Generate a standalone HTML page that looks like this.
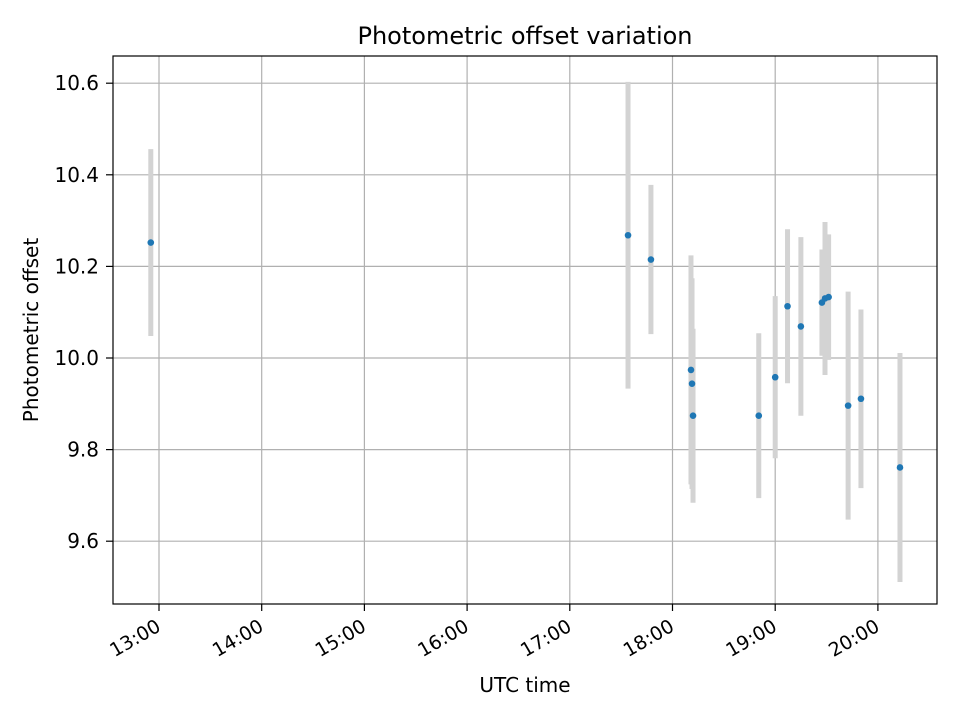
<!DOCTYPE html>
<html><head><meta charset="utf-8"><style>
body{margin:0;background:#fff}
text{font-family:"DejaVu Sans","Liberation Sans",sans-serif;fill:#000}
</style></head><body>
<svg width="960" height="720" viewBox="0 0 960 720">
<rect x="0" y="0" width="960" height="720" fill="#fff"/>
<g id="grid"></g>
<g id="bars"></g>
<g id="pts"></g>
<rect x="113" y="56" width="824" height="548" fill="none" stroke="#000" stroke-width="1.2"/>
<g id="ticks"></g>
<text x="525" y="44" font-size="24" text-anchor="middle">Photometric offset variation</text>
<text x="525" y="692" font-size="20" text-anchor="middle">UTC time</text>
<text x="0" y="0" font-size="20" text-anchor="middle" transform="translate(38,330) rotate(-90)">Photometric offset</text>
</svg>
<script>
const times=[12.92,17.567,17.79,18.18,18.19,18.2,18.84,19.0,19.12,19.25,19.455,19.485,19.52,19.71,19.835,20.215];
const values=[10.252,10.268,10.215,9.974,9.944,9.874,9.874,9.958,10.113,10.069,10.121,10.13,10.133,9.896,9.911,9.761];
const errors=[0.204,0.335,0.163,0.25,0.23,0.19,0.18,0.177,0.168,0.195,0.116,0.167,0.137,0.249,0.195,0.25];
const xTicks=[13,14,15,16,17,18,19,20];
const xTickLabels=["13:00","14:00","15:00","16:00","17:00","18:00","19:00","20:00"];
const yTicks=[9.6,9.8,10.0,10.2,10.4,10.6];
const yTickLabels=["9.6","9.8","10.0","10.2","10.4","10.6"];
const NS="http://www.w3.org/2000/svg";
function xs(h){return 159+(h-13)*102.7;}
function ys(v){return 358-(v-10)*458;}
function mk(tag,attrs,parent){const e=document.createElementNS(NS,tag);for(const k in attrs)e.setAttribute(k,attrs[k]);document.getElementById(parent).appendChild(e);return e;}
xTicks.forEach((t,i)=>{
  const x=xs(t);
  const g=mk('line',{x1:x,x2:x,y1:56,y2:604,stroke:'#b0b0b0','stroke-width':1.2},'grid');
  
  
  const tk=mk('line',{x1:x,x2:x,y1:604,y2:611,stroke:'#000','stroke-width':1.2},'ticks');
  
  
  const tx=mk('text',{x:0,y:0,'font-size':19,'text-anchor':'end',transform:`translate(${x+3},${630}) rotate(-30)`},'ticks');
  tx.textContent=xTickLabels[i];
  
  
});
yTicks.forEach((t,i)=>{
  const y=ys(t);
  const g=mk('line',{x1:113,x2:937,y1:y,y2:y,stroke:'#b0b0b0','stroke-width':1.2},'grid');
  
  
  const tk=mk('line',{x1:106,x2:113,y1:y,y2:y,stroke:'#000','stroke-width':1.2},'ticks');
  
  
  const tx=mk('text',{x:99,y:y+7,'font-size':20,'text-anchor':'end'},'ticks');
  tx.textContent=yTickLabels[i];
  
  
});
times.forEach((t,i)=>{
  const x=xs(t);
  const b=mk('line',{x1:x,x2:x,y1:ys(values[i]+errors[i]),y2:ys(values[i]-errors[i]),stroke:'#d3d3d3','stroke-width':5},'bars');
  
  
});
times.forEach((t,i)=>{
  const c=mk('circle',{cx:xs(t),cy:ys(values[i]),r:3.3,fill:'#1f77b4'},'pts');
  
  
});
</script>
</body></html>
